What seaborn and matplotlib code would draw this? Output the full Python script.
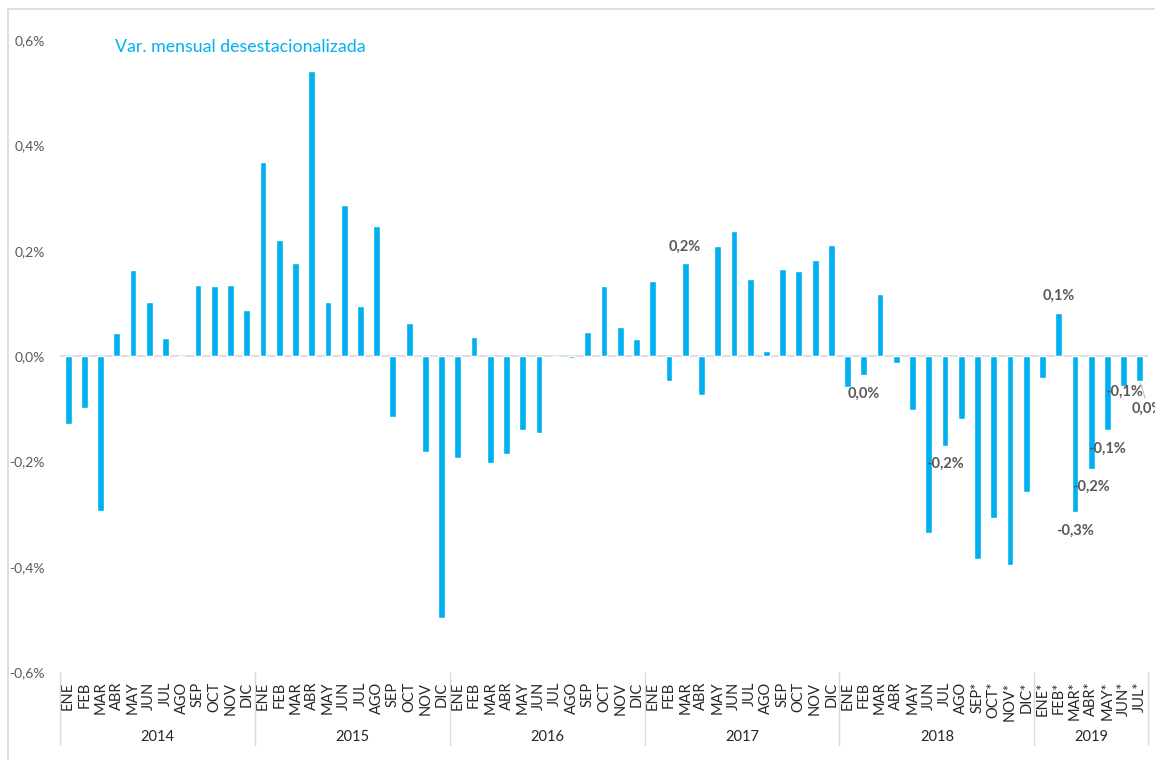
import numpy as np
import pandas as pd
import matplotlib
matplotlib.use("Agg")
import matplotlib.pyplot as plt
import matplotlib.transforms as mtransforms
from matplotlib.lines import Line2D
import seaborn as sns

# months per year (2019 ends in JUL*, preliminary months carry a star)
years = ["2014", "2015", "2016", "2017", "2018", "2019"]
months = ["ENE", "FEB", "MAR", "ABR", "MAY", "JUN", "JUL", "AGO", "SEP", "OCT", "NOV", "DIC"]
months_2018 = ["ENE", "FEB", "MAR", "ABR", "MAY", "JUN", "JUL", "AGO", "SEP*", "OCT*", "NOV*", "DIC*"]
months_2019 = ["ENE*", "FEB*", "MAR*", "ABR*", "MAY*", "JUN*", "JUL*"]

# monthly seasonally adjusted change, %
v2014 = [-0.130, -0.099, -0.294, 0.044, 0.163, 0.102, 0.035, 0.0, 0.134, 0.132, 0.134, 0.088]
v2015 = [0.369, 0.221, 0.177, 0.541, 0.102, 0.287, 0.094, 0.246, -0.115, 0.063, -0.183, -0.497]
v2016 = [-0.193, 0.037, -0.204, -0.187, -0.141, -0.146, 0.0, -0.003, 0.046, 0.132, 0.055, 0.033]
v2017 = [0.142, -0.047, 0.176, -0.074, 0.208, 0.238, 0.147, 0.009, 0.165, 0.162, 0.183, 0.210]
v2018 = [-0.059, -0.037, 0.118, -0.013, -0.103, -0.337, -0.171, -0.120, -0.385, -0.308, -0.397, -0.258]
v2019 = [-0.041, 0.082, -0.297, -0.215, -0.141, -0.057, -0.047]

# bars that carry a data label (year, month)
labeled = [("2017", "MAR"), ("2018", "FEB"), ("2018", "JUL"), ("2019", "FEB*"),
           ("2019", "MAR*"), ("2019", "ABR*"), ("2019", "MAY*"), ("2019", "JUN*"), ("2019", "JUL*")]

month_lists = [months, months, months, months, months_2018, months_2019]
value_lists = [v2014, v2015, v2016, v2017, v2018, v2019]

rows = []
for yr, ms, vs in zip(years, month_lists, value_lists):
    for m, v in zip(ms, vs):
        rows.append({"anio": yr, "mes": m, "clave": yr + "-" + m, "valor": v})
df = pd.DataFrame(rows)

BLUE = "#00B0F0"
GRAY = "#595959"

sns.set_theme(style="white")
plt.rcParams["font.family"] = ["Lato", "DejaVu Sans"]

fig = plt.figure(figsize=(11.55, 7.6), dpi=100)
W, H = 1155, 760
ax = fig.add_axes([60 / W, 1 - 672 / H, (1148 - 60) / W, (672 - 40) / H])

sns.barplot(data=df, x="clave", y="valor", color=BLUE, width=0.42,
            saturation=1, ax=ax, order=df["clave"])

ax.set_xlim(-0.5, len(df) - 0.5)
ax.set_ylim(-0.6, 0.6)
ax.set_yticks(np.arange(-0.6, 0.61, 0.2))
ax.set_yticklabels([f"{t:.1f}%".replace(".", ",") for t in np.arange(-0.6, 0.61, 0.2)],
                   color=GRAY, fontsize=10)
ax.tick_params(axis="y", length=0, pad=11)
ax.set_xticks(range(len(df)))
ax.set_xticklabels(df["mes"], rotation=90, fontsize=10.5, color="#262626")
ax.tick_params(axis="x", length=0, pad=7)
ax.set_xlabel("")
ax.set_ylabel("")
for s in ax.spines.values():
    s.set_visible(False)
ax.axhline(0, color="#d9d9d9", lw=1.2, zorder=0)

# year group separators and labels
trans = mtransforms.blended_transform_factory(ax.transData, ax.transAxes)
bounds = [-0.5]
start = 0
for yr in years:
    n = (df["anio"] == yr).sum()
    ax.text(start + (n - 1) / 2, -0.103, yr, transform=trans, ha="center", va="center",
            fontsize=10.5, color="#262626")
    start += n
    bounds.append(start - 0.5)
for b in bounds:
    ax.plot([b, b], [0, -0.116], transform=trans, color="#d9d9d9", lw=1, clip_on=False)

# data labels
for yr, m in labeled:
    i = df.index[(df["anio"] == yr) & (df["mes"] == m)][0]
    v = df.loc[i, "valor"]
    r = round(v, 1)
    txt = ("0,0%" if r == 0 else f"{r:.1f}%".replace(".", ","))
    dx, dy = 0, (12 if v > 0 else -13)
    arrow = None
    if m == "JUN*":
        dy = -4
    if m == "JUL*":
        dx, dy = 6, -20
        arrow = dict(arrowstyle="-", color="#bfbfbf", lw=0.8, shrinkA=0, shrinkB=2)
    ax.annotate(txt, xy=(i, v), xytext=(dx, dy), textcoords="offset points",
                ha="center", va="center", fontsize=10.5, fontweight="bold",
                color=GRAY, arrowprops=arrow, annotation_clip=False)

fig.text(115 / W, 1 - 47 / H, "Var. mensual desestacionalizada", color=BLUE,
         fontsize=12.8, va="center", ha="left")

# outer chart frame
fig.add_artist(Line2D([8 / W, 1], [1 - 9 / H, 1 - 9 / H], color="#d9d9d9", lw=1.2))
fig.add_artist(Line2D([8 / W, 8 / W], [0, 1 - 9 / H], color="#d9d9d9", lw=1.2))

fig.savefig("out.png", dpi=100)
